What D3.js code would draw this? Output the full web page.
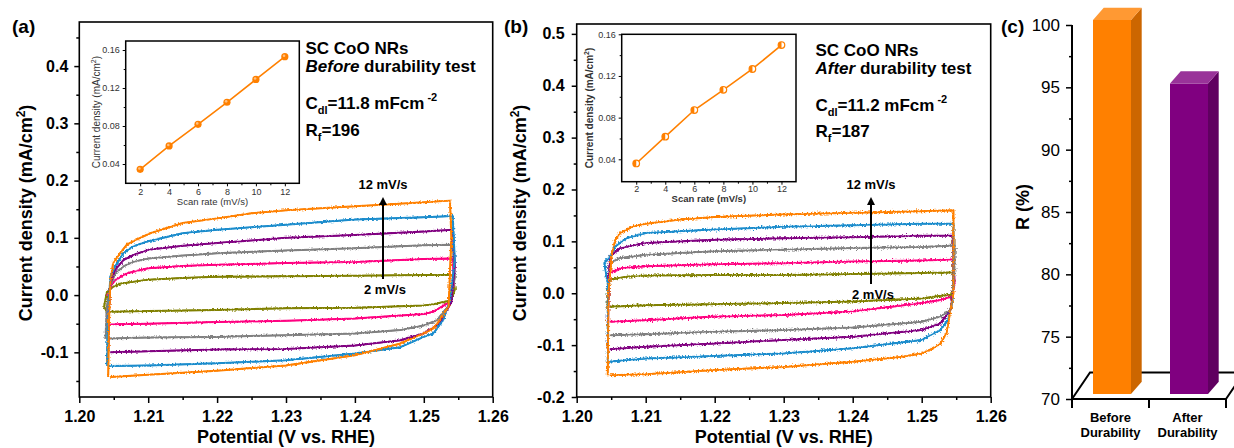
<!DOCTYPE html>
<html>
<head>
<meta charset="utf-8">
<script src="https://d3js.org/d3.v7.min.js"></script>
<style>
  body { margin: 0; background: #fff; }
  svg { display: block; }
  text { font-family: Arial, "Liberation Sans", sans-serif; }
</style>
</head>
<body>
<script>
// ---- data ----
var scanRates = [2, 4, 6, 8, 10, 12];
var cvColors = ["#808000", "#ff0080", "#808080", "#800080", "#1a8ccc", "#ff8000"];

// inset: current density vs scan rate
var insetBefore = [0.0344, 0.059, 0.0818, 0.105, 0.129, 0.153];
var insetAfter = [0.036, 0.0617, 0.0873, 0.1067, 0.1267, 0.1497];

// CV loops [E (V vs RHE), j (mA/cm2)], one per scan rate, before durability test
var cvBefore = [
  [[1.2040,-0.029],[1.2036,-0.020],[1.2040,0.005],[1.2045,0.012],[1.2059,0.020],[1.21,0.027],[1.215,0.030],[1.22,0.032],[1.23,0.033],[1.24,0.034],[1.25,0.035],[1.2542,0.035],[1.2545,0.010],[1.2540,-0.009],[1.2514,-0.016],[1.25,-0.018],[1.24,-0.022],[1.23,-0.023],[1.22,-0.026],[1.21,-0.028],[1.2042,-0.029]],
  [[1.2042,-0.051],[1.2042,0.0],[1.2045,0.015],[1.2052,0.026],[1.2069,0.038],[1.21,0.047],[1.215,0.051],[1.22,0.053],[1.23,0.056],[1.24,0.058],[1.25,0.063],[1.2542,0.064],[1.2544,0.020],[1.2538,-0.012],[1.2514,-0.029],[1.25,-0.033],[1.24,-0.041],[1.23,-0.045],[1.22,-0.047],[1.21,-0.050],[1.2045,-0.051]],
  [[1.2038,-0.076],[1.2040,-0.020],[1.2045,0.015],[1.2052,0.038],[1.2064,0.050],[1.2078,0.058],[1.21,0.064],[1.215,0.069],[1.22,0.073],[1.23,0.078],[1.24,0.082],[1.25,0.087],[1.2542,0.088],[1.2545,0.030],[1.2538,-0.015],[1.2519,-0.044],[1.25,-0.053],[1.2466,-0.061],[1.24,-0.067],[1.23,-0.070],[1.22,-0.073],[1.21,-0.074],[1.2040,-0.076]],
  [[1.2042,-0.100],[1.2043,-0.030],[1.2045,0.020],[1.2052,0.044],[1.2064,0.061],[1.2078,0.070],[1.21,0.079],[1.215,0.086],[1.22,0.091],[1.23,0.100],[1.24,0.105],[1.25,0.111],[1.2542,0.114],[1.2545,0.050],[1.2540,-0.012],[1.2523,-0.050],[1.25,-0.067],[1.2466,-0.079],[1.24,-0.088],[1.23,-0.094],[1.22,-0.095],[1.21,-0.098],[1.2045,-0.100]],
  [[1.2040,-0.124],[1.2041,-0.060],[1.2045,0.032],[1.2052,0.050],[1.2064,0.073],[1.2078,0.085],[1.21,0.094],[1.215,0.108],[1.22,0.114],[1.23,0.123],[1.24,0.132],[1.25,0.136],[1.2542,0.138],[1.2545,0.060],[1.2538,-0.009],[1.2528,-0.044],[1.2514,-0.067],[1.25,-0.073],[1.2466,-0.091],[1.24,-0.102],[1.23,-0.114],[1.22,-0.119],[1.21,-0.123],[1.2042,-0.124]],
  [[1.2042,-0.143],[1.2043,-0.050],[1.2045,0.020],[1.2049,0.056],[1.2059,0.073],[1.2069,0.088],[1.2083,0.097],[1.2103,0.108],[1.215,0.126],[1.22,0.134],[1.225,0.143],[1.23,0.148],[1.24,0.155],[1.244,0.158],[1.25,0.162],[1.2538,0.165],[1.2540,0.100],[1.2536,-0.020],[1.2523,-0.044],[1.2514,-0.058],[1.25,-0.067],[1.2465,-0.085],[1.24,-0.105],[1.23,-0.123],[1.22,-0.132],[1.21,-0.139],[1.2045,-0.143]]
];

// CV loops after durability test
var cvAfter = [
  [[1.2045,-0.026],[1.2045,0.0],[1.2048,0.026],[1.2072,0.032],[1.21,0.034],[1.22,0.035],[1.23,0.035],[1.24,0.037],[1.25,0.039],[1.2545,0.040],[1.2546,0.010],[1.2542,-0.003],[1.2522,-0.006],[1.25,-0.010],[1.24,-0.016],[1.23,-0.019],[1.22,-0.021],[1.21,-0.023],[1.2048,-0.026]],
  [[1.2045,-0.055],[1.2046,0.0],[1.2048,0.039],[1.2063,0.048],[1.21,0.052],[1.22,0.056],[1.23,0.058],[1.24,0.061],[1.25,0.063],[1.2545,0.065],[1.2548,0.020],[1.2544,-0.006],[1.2527,-0.013],[1.25,-0.019],[1.245,-0.027],[1.24,-0.035],[1.23,-0.042],[1.22,-0.045],[1.21,-0.052],[1.2048,-0.055]],
  [[1.2045,-0.081],[1.2046,0.0],[1.2048,0.058],[1.2063,0.068],[1.21,0.074],[1.22,0.081],[1.23,0.084],[1.24,0.087],[1.25,0.089],[1.2548,0.092],[1.2547,0.020],[1.2542,-0.032],[1.2527,-0.045],[1.25,-0.055],[1.24,-0.066],[1.23,-0.071],[1.22,-0.074],[1.21,-0.079],[1.2048,-0.081]],
  [[1.2045,-0.108],[1.2046,0.0],[1.2048,0.071],[1.2063,0.087],[1.21,0.097],[1.22,0.103],[1.23,0.106],[1.24,0.108],[1.25,0.111],[1.2545,0.111],[1.2546,0.020],[1.2542,-0.032],[1.2527,-0.058],[1.25,-0.071],[1.24,-0.084],[1.23,-0.090],[1.22,-0.097],[1.21,-0.103],[1.2048,-0.108]],
  [[1.2045,-0.132],[1.2045,0.020],[1.2040,0.058],[1.2048,0.070],[1.2056,0.090],[1.2072,0.106],[1.21,0.116],[1.22,0.123],[1.23,0.128],[1.24,0.131],[1.25,0.134],[1.2546,0.134],[1.2546,0.030],[1.2545,-0.013],[1.2538,-0.052],[1.2527,-0.071],[1.25,-0.090],[1.24,-0.106],[1.23,-0.116],[1.22,-0.121],[1.21,-0.126],[1.2046,-0.132]],
  [[1.2045,-0.158],[1.2046,0.0],[1.2051,0.077],[1.2056,0.103],[1.2063,0.116],[1.2082,0.129],[1.21,0.134],[1.215,0.142],[1.22,0.147],[1.23,0.152],[1.24,0.155],[1.25,0.158],[1.2546,0.160],[1.2546,0.0],[1.2536,-0.077],[1.2527,-0.097],[1.2517,-0.106],[1.25,-0.116],[1.2469,-0.123],[1.24,-0.132],[1.23,-0.142],[1.22,-0.148],[1.21,-0.156],[1.2048,-0.158]]
];

// panel (c): retention
var retentionLabels = ["Before Durability", "After Durability"];
var retention = [100, 94.9];
var barFront = ["#ff8000", "#800080"],
    barSide = ["#cc6600", "#600060"],
    barTop = ["#ff9933", "#993399"];

var width = 1234, height = 448;

var svg = d3.select("body").append("svg")
    .attr("width", width)
    .attr("height", height);

// rough texture for the noisy CV traces
var defs = svg.append("defs");
[["noiseA", 4], ["noiseB", 6]].forEach(function(f) {
  var flt = defs.append("filter").attr("id", f[0])
      .attr("x", "-5%").attr("y", "-10%").attr("width", "110%").attr("height", "120%");
  flt.append("feTurbulence").attr("type", "fractalNoise").attr("baseFrequency", "0.8 0.6")
      .attr("numOctaves", 1).attr("seed", 4).attr("result", "t");
  flt.append("feDisplacementMap").attr("in", "SourceGraphic").attr("in2", "t")
      .attr("scale", f[1]).attr("xChannelSelector", "R").attr("yChannelSelector", "G");
});

function styleTicks(g, size, weight) {
  g.select(".domain").remove();
  g.selectAll(".tick line").attr("stroke", "#000").attr("stroke-width", 1.5);
  g.selectAll(".tick text").attr("fill", "#000")
      .style("font-size", size + "px").style("font-weight", weight);
}

function drawCV(o) {
  var x = d3.scaleLinear().domain([1.20, 1.26]).range([o.left, o.right]);
  var y = d3.scaleLinear().domain(o.yDomain).range([o.bottom, o.top]);
  var g = svg.append("g");

  var line = d3.line().x(function(d) { return x(d[0]); }).y(function(d) { return y(d[1]); });
  var base = g.append("g");
  var cg = g.append("g").attr("filter", "url(#" + o.filter + ")");
  o.curves.forEach(function(c, i) {
    base.append("path").attr("d", line(c))
        .attr("fill", "none").attr("stroke", cvColors[i])
        .attr("stroke-width", 1.4).attr("stroke-linejoin", "round");
    cg.append("path").attr("d", line(c))
        .attr("fill", "none").attr("stroke", cvColors[i])
        .attr("stroke-width", o.lw).attr("stroke-linejoin", "round");
  });

  var xMajor = d3.range(0, 7).map(function(i) { return 1.20 + i * 0.01; });
  var xMinor = d3.range(0, 6).map(function(i) { return 1.205 + i * 0.01; });

  g.append("g").attr("transform", "translate(0," + o.bottom + ")")
      .call(d3.axisBottom(x).tickValues(xMajor).tickSize(6).tickPadding(8)
        .tickFormat(function(d) { return d.toFixed(2); }))
      .call(styleTicks, 16, "bold");
  g.append("g").attr("transform", "translate(0," + o.bottom + ")")
      .call(d3.axisBottom(x).tickValues(xMinor).tickSize(3).tickFormat(""))
      .call(styleTicks, 16, "bold");

  g.append("g").attr("transform", "translate(" + o.left + ",0)")
      .call(d3.axisLeft(y).tickValues(o.yMajor).tickSize(5).tickPadding(o.ypad)
        .tickFormat(function(d) { return d.toFixed(1); }))
      .call(styleTicks, 16, "bold");
  g.append("g").attr("transform", "translate(" + o.left + ",0)")
      .call(d3.axisLeft(y).tickValues(o.yMinor).tickSize(3).tickFormat(""))
      .call(styleTicks, 16, "bold");

  g.append("rect").attr("x", o.left).attr("y", o.top)
      .attr("width", o.right - o.left).attr("height", o.bottom - o.top)
      .attr("fill", "none").attr("stroke", "#000").attr("stroke-width", 1.6);

  // axis titles
  g.append("text")
      .attr("x", (o.left + o.right) / 2).attr("y", 443)
      .attr("text-anchor", "middle").style("font-size", "18px").style("font-weight", "bold")
      .text("Potential (V vs. RHE)");
  var yt = g.append("text")
      .attr("transform", "translate(" + o.ytx + "," + o.yty + ") rotate(-90)")
      .attr("text-anchor", "middle").style("font-size", "18px").style("font-weight", "bold");
  yt.append("tspan").text("Current density (mA/cm");
  yt.append("tspan").attr("dy", -7).style("font-size", "12px").text("2");
  yt.append("tspan").attr("dy", 7).text(")");

  // panel letter
  g.append("text").attr("x", o.letterX).attr("y", 33)
      .style("font-size", "19px").style("font-weight", "bold").text(o.letter);

  // sample notes
  var tx = o.noteX;
  g.append("text").attr("x", tx).attr("y", o.noteY[0])
      .style("font-size", "17px").style("font-weight", "bold").text("SC CoO NRs");
  var t2 = g.append("text").attr("x", tx).attr("y", o.noteY[1])
      .style("font-size", "17px").style("font-weight", "bold");
  t2.append("tspan").style("font-style", "italic").text(o.when);
  t2.append("tspan").text(" durability test");
  var t3 = g.append("text").attr("x", tx).attr("y", o.noteY[2])
      .style("font-size", "17px").style("font-weight", "bold");
  t3.append("tspan").text("C");
  t3.append("tspan").attr("dy", 5).style("font-size", "11px").text("dl");
  t3.append("tspan").attr("dy", -5).text("=" + o.cdl + " mFcm");
  t3.append("tspan").attr("dy", -8).attr("dx", 3).style("font-size", "11px").text("-2");
  var t4 = g.append("text").attr("x", tx).attr("y", o.noteY[3])
      .style("font-size", "17px").style("font-weight", "bold");
  t4.append("tspan").text("R");
  t4.append("tspan").attr("dy", 5).style("font-size", "11px").text("f");
  t4.append("tspan").attr("dy", -5).text("=" + o.rf);

  // scan-rate arrow
  var ax = o.arrow[0];
  g.append("line").attr("x1", ax).attr("x2", ax).attr("y1", o.arrow[1]).attr("y2", o.arrow[2] + 6)
      .attr("stroke", "#000").attr("stroke-width", 2);
  g.append("path")
      .attr("d", "M" + (ax - 4) + "," + (o.arrow[2] + 8) + "L" + ax + "," + o.arrow[2] + "L" + (ax + 4) + "," + (o.arrow[2] + 8) + "Z")
      .attr("fill", "#000");
  g.append("text").attr("x", ax).attr("y", o.arrow[2] - 8).attr("text-anchor", "middle")
      .style("font-size", "13px").style("font-weight", "bold").text(scanRates[5] + " mV/s");
  g.append("text").attr("x", ax + 2).attr("y", o.arrow[1] + 15).attr("text-anchor", "middle")
      .style("font-size", "13px").style("font-weight", "bold").text(scanRates[0] + " mV/s");

  drawInset(o.inset);
}

function drawInset(o) {
  var x = d3.scaleLinear().domain([1, 13]).range([o.left, o.right]);
  var y = d3.scaleLinear().domain(o.yDomain).range([o.bottom, o.top]);
  var g = svg.append("g");

  g.append("rect").attr("x", o.left).attr("y", o.top)
      .attr("width", o.right - o.left).attr("height", o.bottom - o.top)
      .attr("fill", "#fff").attr("stroke", "#000").attr("stroke-width", 1.5);

  g.append("g").attr("transform", "translate(0," + o.bottom + ")")
      .call(d3.axisBottom(x).tickValues([2, 4, 6, 8, 10, 12]).tickSize(3).tickPadding(o.xpad))
      .call(styleTicks, 9, "normal");
  g.append("g").attr("transform", "translate(0," + o.bottom + ")")
      .call(d3.axisBottom(x).tickValues([3, 5, 7, 9, 11]).tickSize(2).tickFormat(""))
      .call(styleTicks, 9, "normal");
  g.append("g").attr("transform", "translate(" + o.left + ",0)")
      .call(d3.axisLeft(y).tickValues([0.04, 0.08, 0.12, 0.16]).tickSize(3).tickPadding(3)
        .tickFormat(function(d) { return d.toFixed(2); }))
      .call(styleTicks, 9, "normal");
  g.append("g").attr("transform", "translate(" + o.left + ",0)")
      .call(d3.axisLeft(y).tickValues([0.06, 0.10, 0.14]).tickSize(2).tickFormat(""))
      .call(styleTicks, 9, "normal");
  g.selectAll(".tick line").attr("stroke-width", 1);
  g.selectAll(".tick text").attr("fill", "#333");

  var line = d3.line().x(function(d, i) { return x(scanRates[i]); }).y(function(d) { return y(d); });
  g.append("path").attr("d", line(o.values)).attr("fill", "none")
      .attr("stroke", "#ff8000").attr("stroke-width", 1.6);

  var pts = g.selectAll(".pt").data(o.values).enter().append("g")
      .attr("transform", function(d, i) { return "translate(" + x(scanRates[i]) + "," + y(d) + ")"; });
  if (o.hollow) {
    pts.append("circle").attr("r", 3.3).attr("fill", "#fff").attr("stroke", "#ff8000").attr("stroke-width", 1.2);
    pts.append("path").attr("d", "M0,-3.3A3.3,3.3 0 0,0 0,3.3Z").attr("fill", "#ff8000");
  } else {
    pts.append("circle").attr("r", 3.6).attr("fill", "#ff8000");
    pts.append("circle").attr("r", 1.3).attr("cx", -0.8).attr("cy", -0.9).attr("fill", "#ffc080");
  }

  g.append("text").attr("x", (o.left + o.right) / 2).attr("y", o.bottom + o.titleDy)
      .attr("text-anchor", "middle").attr("fill", "#333")
      .style("font-size", "9.5px").style("font-weight", o.weight).text("Scan rate (mV/s)");
  var yt = g.append("text")
      .attr("transform", "translate(" + o.ytx + "," + ((o.top + o.bottom) / 2) + ") rotate(-90)")
      .attr("text-anchor", "middle").attr("fill", "#333")
      .style("font-size", "10px").style("font-weight", o.weight);
  yt.append("tspan").text("Current density (mA/cm");
  yt.append("tspan").attr("dy", -4).style("font-size", "7px").text("2");
  yt.append("tspan").attr("dy", 4).text(")");
}

drawCV({
  left: 79.3, right: 492.7, top: 22, bottom: 397,
  yDomain: [-0.178, 0.477],
  yMajor: [-0.1, 0.0, 0.1, 0.2, 0.3, 0.4],
  yMinor: [-0.15, -0.05, 0.05, 0.15, 0.25, 0.35, 0.45],
  ypad: 6, ytx: 32, yty: 213, lw: 2,
  curves: cvBefore, filter: "noiseA",
  letter: "(a)", letterX: 12,
  noteX: 305.5, noteY: [54, 72, 109, 136],
  when: "Before", cdl: "11.8", rf: "196",
  arrow: [383, 279, 197],
  inset: { left: 125.7, right: 299.3, top: 41, bottom: 183.3, yDomain: [0.0197, 0.1695],
           values: insetBefore, hollow: false, weight: "normal", ytx: 100, xpad: 2, titleDy: 21.5 }
});

drawCV({
  left: 576.7, right: 990.7, top: 24, bottom: 397,
  yDomain: [-0.2, 0.519],
  yMajor: [-0.2, -0.1, 0.0, 0.1, 0.2, 0.3, 0.4, 0.5],
  yMinor: [-0.15, -0.05, 0.05, 0.15, 0.25, 0.35, 0.45],
  ypad: 7, ytx: 526, yty: 213, lw: 2,
  curves: cvAfter, filter: "noiseB",
  letter: "(b)", letterX: 504,
  noteX: 815.5, noteY: [56, 74, 111, 137],
  when: "After", cdl: "11.2", rf: "187",
  arrow: [871, 284, 197],
  inset: { left: 621.7, right: 796, top: 34.3, bottom: 181.7, yDomain: [0.0185, 0.16],
           values: insetAfter, hollow: true, weight: "bold", ytx: 593, xpad: 1, titleDy: 20.5 }
});

// ---- panel (c) ----
(function() {
  var left = 1072, right = 1226, base = 399;
  var y = d3.scaleLinear().domain([70, 100]).range([base, 25]);
  var x = d3.scaleBand().domain(retentionLabels).range([left, right]);
  var g = svg.append("g");

  // floor
  var fdx = 18, fdy = -26.5;
  g.append("path")
      .attr("d", "M" + left + "," + base + "L" + (left + fdx) + "," + (base + fdy) + "L" + (width + 5) + "," + (base + fdy)
        + "M" + right + "," + base + "L" + (right + fdx) + "," + (base + fdy))
      .attr("fill", "none").attr("stroke", "#000").attr("stroke-width", 2);

  // bars
  var w = 38, dx = 10.7, dy = -12.3, sx = 1.5, sy = -5;
  retention.forEach(function(v, i) {
    var x0 = x(retentionLabels[i]) + x.bandwidth() / 2 - w / 2 + sx, x1 = x0 + w;
    var yt = y(v) + sy, yb = y(70) + sy;
    g.append("path").attr("d", "M" + x1 + "," + yt + "L" + (x1 + dx) + "," + (yt + dy) + "L" + (x1 + dx) + "," + (yb + dy) + "L" + x1 + "," + yb + "Z")
        .attr("fill", barSide[i]);
    g.append("path").attr("d", "M" + x0 + "," + yt + "L" + x1 + "," + yt + "L" + (x1 + dx) + "," + (yt + dy) + "L" + (x0 + dx) + "," + (yt + dy) + "Z")
        .attr("fill", barTop[i]);
    g.append("rect").attr("x", x0).attr("y", yt).attr("width", w).attr("height", yb - yt)
        .attr("fill", barFront[i]);
  });

  // y axis
  g.append("g").attr("transform", "translate(" + left + ",0)")
      .call(d3.axisLeft(y).tickValues(d3.range(70, 101, 5)).tickSize(6).tickPadding(6))
      .call(styleTicks, 17, "normal");
  g.append("g").attr("transform", "translate(" + left + ",0)")
      .call(d3.axisLeft(y).tickValues(d3.range(72.5, 100, 5)).tickSize(3).tickFormat(""))
      .call(styleTicks, 17, "normal");
  g.append("line").attr("x1", left).attr("x2", left).attr("y1", 25).attr("y2", base)
      .attr("stroke", "#000").attr("stroke-width", 2);

  // x axis with category ticks at band edges
  g.append("line").attr("x1", left).attr("x2", right).attr("y1", base).attr("y2", base)
      .attr("stroke", "#000").attr("stroke-width", 2);
  [left, left + x.bandwidth(), right].forEach(function(tx) {
    g.append("line").attr("x1", tx).attr("x2", tx).attr("y1", base).attr("y2", base + 9)
        .attr("stroke", "#000").attr("stroke-width", 2);
  });
  retentionLabels.forEach(function(lbl, i) {
    var parts = lbl.split(" ");
    var cx = x(lbl) + x.bandwidth() / 2;
    parts.forEach(function(p, j) {
      g.append("text").attr("x", cx).attr("y", 422 + j * 15).attr("text-anchor", "middle")
          .style("font-size", "13px").style("font-weight", "bold").text(p);
    });
  });

  g.append("text").attr("transform", "translate(1029,207) rotate(-90)")
      .attr("text-anchor", "middle").style("font-size", "18px").style("font-weight", "bold")
      .text("R (%)");
  g.append("text").attr("x", 1001).attr("y", 33)
      .style("font-size", "19px").style("font-weight", "bold").text("(c)");
})();
</script>
</body>
</html>
